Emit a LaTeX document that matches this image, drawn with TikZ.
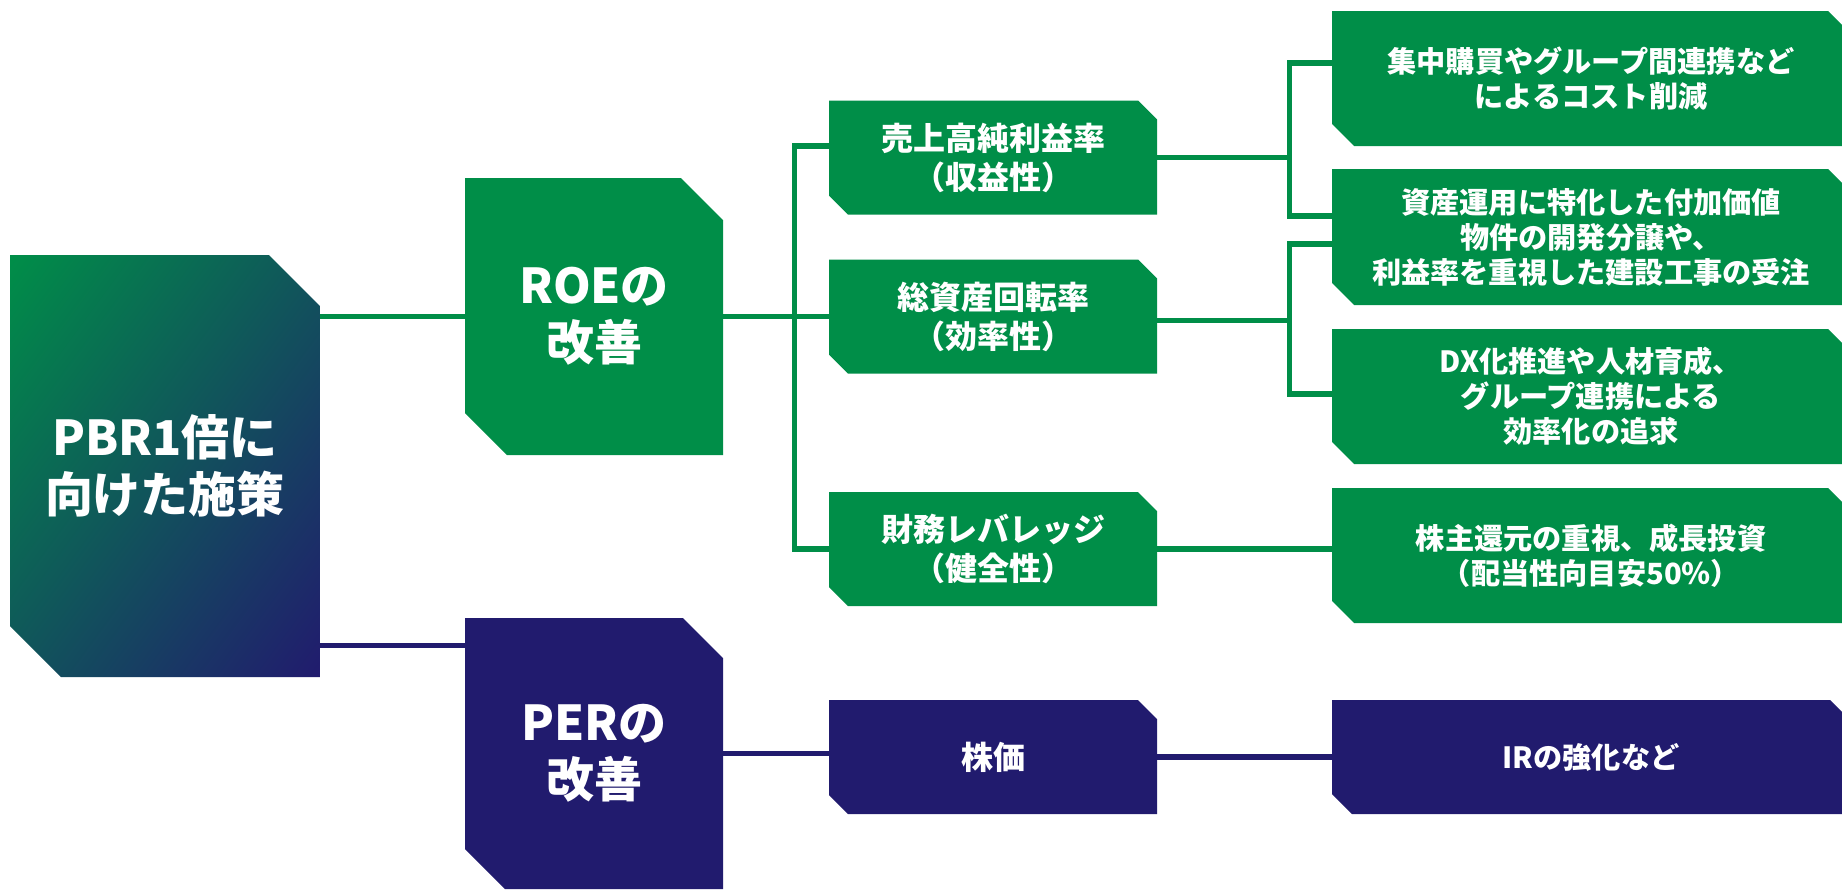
\documentclass[tikz,border=0pt]{standalone}
\usepackage{fontspec}
\setmainfont{Noto Sans CJK JP}
\usetikzlibrary{calc,shadings}
\definecolor{gr}{RGB}{0,142,72}
\definecolor{ind}{RGB}{33,27,110}
\colorlet{midc}{gr!50!ind}
\begin{document}
\begin{tikzpicture}[x=0.5pt,y=-0.5pt,
  box/.style={inner sep=0pt, text=white, align=center},
  cutshape/.style 2 args={path picture={\fill[#1] (path picture bounding box.north west) -- ([xshift=-#2]path picture bounding box.north east) -- ([yshift=-#2]path picture bounding box.north east) -- (path picture bounding box.south east) -- ([xshift=#2]path picture bounding box.south west) -- ([yshift=#2]path picture bounding box.south west) -- cycle;}},
  bigf/.style={font=\fontsize{24}{28.5}\selectfont\bfseries},
  midf/.style={font=\fontsize{16}{19.5}\selectfont\bfseries},
  smallf/.style={font=\fontsize{14.6}{17.5}\selectfont\bfseries},
  lvl1/.style={box,bigf,minimum width=129pt},
  lvl2/.style={box,midf,minimum width=164pt,minimum height=57pt},
  lvl3/.style={box,smallf,minimum width=259pt,minimum height=67.5pt},
  gline/.style={draw=gr, line width=2.8pt},
  iline/.style={draw=ind, line width=2.8pt},
]
\useasboundingbox (0,0) rectangle (1842,891);
\clip (0,0) rectangle (1842,891);

% root
\node[box,bigf,minimum width=155pt,minimum height=211pt,
  path picture={\shade[upper left=gr,lower right=ind,upper right=midc,lower left=midc]
   (path picture bounding box.north west) -- ([xshift=-25.5pt]path picture bounding box.north east) -- ([yshift=-25.5pt]path picture bounding box.north east) -- (path picture bounding box.south east) -- ([xshift=25.5pt]path picture bounding box.south west) -- ([yshift=25.5pt]path picture bounding box.south west) -- cycle;}]
  (pbr) at (165,466) {PBR1倍に\\向けた施策};

% level 1
\node[lvl1,minimum height=138.5pt,cutshape={gr}{21pt}] (roe) at (594,316.5) {ROEの\\改善};
\node[lvl1,minimum height=135.5pt,cutshape={ind}{20pt}] (per) at (594,753.5) {PERの\\改善};

% level 2
\node[lvl2,cutshape={gr}{9.5pt}] (uri) at (993,157.5) {売上高純利益率\\（収益性）};
\node[lvl2,cutshape={gr}{9.5pt}] (sou) at (993,316.5) {総資産回転率\\（効率性）};
\node[lvl2,cutshape={gr}{9.5pt}] (zai) at (993,549) {財務レバレッジ\\（健全性）};
\node[lvl2,cutshape={ind}{9.5pt}] (kabu) at (993,757) {株価};

% level 3
\node[lvl3,cutshape={gr}{11pt}] (r1) at (1591,78.5) {集中購買やグループ間連携など\\によるコスト削減};
\node[lvl3,minimum height=68pt,cutshape={gr}{11pt}] (r2) at (1591,237) {資産運用に特化した付加価値\\物件の開発分譲や、\\利益率を重視した建設工事の受注};
\node[lvl3,cutshape={gr}{11pt}] (r3) at (1591,396.5) {DX化推進や人材育成、\\グループ連携による\\効率化の追求};
\node[lvl3,cutshape={gr}{11pt}] (r4) at (1591,555.5) {株主還元の重視、成長投資\\（配当性向目安50％）};
\node[lvl3,minimum height=57pt,cutshape={ind}{10pt}] (ir) at (1591,757) {IRの強化など};

% connectors
\coordinate (pj) at ($(per.north west)+(0,28)$);
\draw[gline] (pbr.east |- roe.west) -- (roe.west);
\draw[iline] (pbr.east |- pj) -- (pj);
\draw[gline] (roe.east) -- (sou.west);
\draw[gline] ($(uri.west)+(0,-11.5)$) -| ($(zai.west)+(-34,0)$) -- (zai.west);
\draw[gline] (uri.east) -- ($(uri.east)+(135,0)$);
\draw[gline] ($(r1.west)+(0,-15.5)$) -| ($(r2.west)+(-42,-21)$) -- ($(r2.west)+(0,-21)$);
\draw[gline] ($(sou.east)+(0,4)$) -- ($(sou.east)+(135,4)$);
\draw[gline] ($(r2.west)+(0,7)$) -| ($(r3.west)+(-42,-2.5)$) -- ($(r3.west)+(0,-2.5)$);
\draw[gline] (zai.east) -- (zai.east -| r4.west);
\draw[iline] (per.east) -- (per.east -| kabu.west);
\draw[iline] (kabu.east) -- (ir.west);
\end{tikzpicture}
\end{document}
